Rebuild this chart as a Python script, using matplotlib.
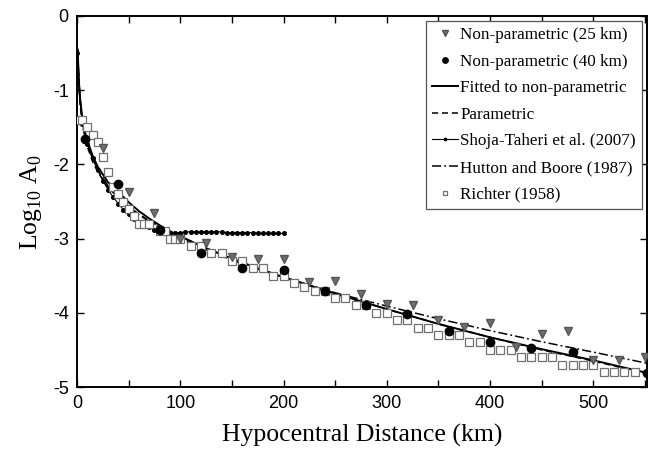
import numpy as np
import matplotlib
matplotlib.use("Agg")
import matplotlib.pyplot as plt
from matplotlib.ticker import MultipleLocator

plt.rcParams["axes.unicode_minus"] = False
plt.rcParams["mathtext.fontset"] = "custom"
plt.rcParams["mathtext.rm"] = "Liberation Serif"

# Non-parametric (25 km bins)
np25_x = [25, 50, 75, 100, 125, 150, 175, 200, 225, 250, 275, 300, 325, 350,
          375, 400, 425, 450, 475, 500, 525, 550]
np25_y = [-1.78, -2.37, -2.66, -3.00, -3.06, -3.25, -3.28, -3.27, -3.58, -3.57,
          -3.74, -3.88, -3.89, -4.10, -4.19, -4.14, -4.46, -4.28, -4.24, -4.64,
          -4.64, -4.60]

# Non-parametric (40 km bins)
np40_x = [8, 40, 80, 120, 160, 200, 240, 280, 320, 360, 400, 440, 480, 552]
np40_y = [-1.66, -2.26, -2.89, -3.20, -3.39, -3.42, -3.71, -3.89, -4.02, -4.25,
          -4.39, -4.48, -4.53, -4.81]

# curves
curve_x = [0.5, 1, 2, 3, 5, 8, 10, 15, 20, 30, 40, 50, 60, 70, 80, 90, 100,
           125, 150, 175, 200, 250, 300, 350, 400, 450, 500, 552]
fitted_y = [-0.45, -0.60, -0.92, -1.12, -1.36, -1.58, -1.68, -1.88, -2.03,
            -2.24, -2.37, -2.51, -2.63, -2.73, -2.82, -2.90, -2.97, -3.13,
            -3.27, -3.40, -3.52, -3.74, -3.95, -4.15, -4.33, -4.49, -4.64, -4.81]
param_y = [-0.45, -0.62, -0.98, -1.20, -1.45, -1.66, -1.76, -1.96, -2.10,
           -2.31, -2.45, -2.57, -2.67, -2.76, -2.84, -2.91, -2.97, -3.13,
           -3.27, -3.40, -3.52, -3.75, -3.95, -4.15, -4.33, -4.50, -4.65, -4.82]
hutton_y = [-0.45, -0.59, -0.93, -1.13, -1.38, -1.61, -1.72, -1.92, -2.07,
            -2.29, -2.45, -2.57, -2.68, -2.77, -2.85, -2.93, -3.00, -3.15,
            -3.29, -3.41, -3.52, -3.73, -3.91, -4.08, -4.24, -4.39, -4.53, -4.68]

# Shoja-Taheri et al. (2007), every 5 km
shoja_x = np.arange(0, 205, 5)
shoja_y = [-0.50, -1.45, -1.72, -1.92, -2.08, -2.22, -2.34, -2.44, -2.53, -2.61,
           -2.67, -2.73, -2.78, -2.82, -2.85, -2.88, -2.90, -2.91, -2.92, -2.92,
           -2.92, -2.91, -2.91, -2.91, -2.91, -2.91, -2.91, -2.91, -2.91, -2.92,
           -2.92, -2.92, -2.92, -2.92, -2.92, -2.93, -2.93, -2.93, -2.93, -2.93,
           -2.93]

# Richter (1958)
richter_x = [0, 5, 10, 15, 20, 25, 30, 35, 40, 45, 50, 55, 60, 65, 70, 80, 85,
             90, 95, 100, 110, 120, 130, 140, 150, 160, 170, 180, 190, 200, 210,
             220, 230, 240, 250, 260, 270, 280, 290, 300, 310, 320, 330, 340,
             350, 360, 370, 380, 390, 400, 410, 420, 430, 440, 450, 460, 470,
             480, 490, 500, 510, 520, 530, 540]
richter_y = [-1.4, -1.4, -1.5, -1.6, -1.7, -1.9, -2.1, -2.3, -2.4, -2.5, -2.6,
             -2.7, -2.8, -2.8, -2.8, -2.9, -2.9, -3.0, -3.0, -3.0, -3.1, -3.1,
             -3.2, -3.2, -3.3, -3.3, -3.4, -3.4, -3.5, -3.5, -3.6, -3.65, -3.7,
             -3.7, -3.8, -3.8, -3.9, -3.9, -4.0, -4.0, -4.1, -4.1, -4.2, -4.2,
             -4.3, -4.3, -4.3, -4.4, -4.4, -4.5, -4.5, -4.5, -4.6, -4.6, -4.6,
             -4.6, -4.7, -4.7, -4.7, -4.7, -4.8, -4.8, -4.8, -4.8]

fig = plt.figure(figsize=(6.55, 4.62), dpi=100)
ax = fig.add_axes([0.1176, 0.1623, 0.8702, 0.8031])

ax.plot(np25_x, np25_y, linestyle="none", marker="v", ms=6.3, color="#6e6e6e",
        mec="#555555", label="Non-parametric (25 km)", zorder=5)
ax.plot(np40_x, np40_y, linestyle="none", marker="o", ms=6, color="black",
        label="Non-parametric (40 km)", zorder=6)
ax.plot(curve_x, fitted_y, color="black", lw=1.4, label="Fitted to non-parametric")
ax.plot(curve_x, param_y, color="black", lw=1.1, ls=(0, (4, 2.5)), label="Parametric")
ax.plot(shoja_x, shoja_y, color="black", lw=0.8, marker="o", ms=2.6,
        label="Shoja-Taheri et al. (2007)")
ax.plot(curve_x, hutton_y, color="black", lw=1.1, ls=(0, (6, 2, 1.2, 2)),
        label="Hutton and Boore (1987)")
ax.plot(richter_x, richter_y, linestyle="none", marker="s", ms=5.5, mfc="white",
        mec="#707070", mew=0.9, label="Richter (1958)", zorder=4)

ax.set_xlim(0, 552)
ax.set_ylim(-5, 0)
ax.xaxis.set_major_locator(MultipleLocator(100))
ax.xaxis.set_minor_locator(MultipleLocator(50))
ax.yaxis.set_major_locator(MultipleLocator(1))
ax.tick_params(which="both", direction="in", top=True, right=True, length=5,
               width=1.0, labelsize=13, pad=6)
for lab in ax.get_xticklabels() + ax.get_yticklabels():
    lab.set_family("Liberation Sans")
for sp in ax.spines.values():
    sp.set_linewidth(1.4)

ax.set_xlabel("Hypocentral Distance (km)", family="Liberation Serif",
              fontsize=18.5, labelpad=8)
ax.set_ylabel("Log$_{10}$ A$_0$", family="Liberation Serif", fontsize=18.5,
              labelpad=6)

leg = ax.legend(loc="upper right", prop={"family": "Liberation Serif", "size": 12.3},
                numpoints=1, markerscale=0.65, handlelength=1.5, handletextpad=0.15,
                labelspacing=0.62, borderpad=0.35, borderaxespad=0.3,
                fancybox=False, framealpha=1, edgecolor="#555555")
leg.get_frame().set_linewidth(0.9)

fig.savefig("out.png", dpi=100)
